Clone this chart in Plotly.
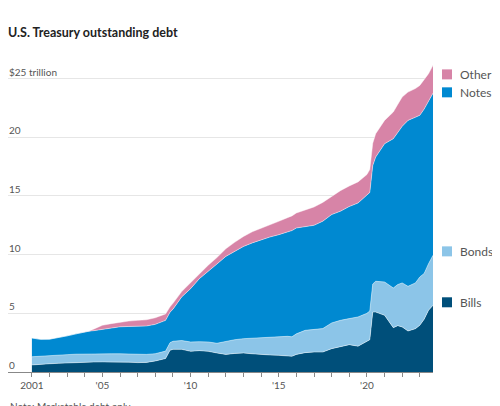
import plotly.graph_objects as go

# Fechas (aprox. semestrales, con puntos extra en los saltos de 2008 y 2020)
dates = [
    "2001-01-01", "2001-07-01", "2002-01-01", "2002-07-01", "2003-01-01", "2003-07-01",
    "2004-01-01", "2004-04-01", "2004-07-01", "2005-01-01", "2005-07-01", "2006-01-01",
    "2006-07-01", "2007-01-01", "2007-07-01", "2008-01-01", "2008-08-01", "2008-11-01",
    "2009-01-01", "2009-07-01", "2010-01-01", "2010-07-01", "2011-01-01", "2011-07-01",
    "2012-01-01", "2012-07-01", "2013-01-01", "2013-07-01", "2014-01-01", "2014-07-01",
    "2015-01-01", "2015-07-01", "2015-10-01", "2016-01-01", "2016-07-01", "2017-01-01",
    "2017-07-01", "2018-01-01", "2018-07-01", "2019-01-01", "2019-07-01", "2020-01-01",
    "2020-03-01", "2020-05-01", "2020-07-01", "2021-01-01", "2021-04-01", "2021-07-01",
    "2021-10-01", "2022-01-01", "2022-05-01", "2022-10-01", "2023-01-01", "2023-04-01",
    "2023-07-01", "2023-10-01",
]

# Billones de dólares (trillions)
bills = [
    0.60, 0.62, 0.70, 0.74, 0.78, 0.82, 0.84, 0.85, 0.85, 0.86, 0.87, 0.86,
    0.84, 0.80, 0.82, 0.94, 1.15, 1.85, 1.93, 1.93, 1.76, 1.82, 1.76, 1.62,
    1.50, 1.58, 1.62, 1.55, 1.48, 1.45, 1.42, 1.38, 1.34, 1.50, 1.65, 1.70,
    1.70, 1.99, 2.19, 2.33, 2.20, 2.60, 2.75, 5.11, 5.11, 4.83, 4.26, 3.78,
    3.95, 3.84, 3.49, 3.69, 3.98, 4.50, 5.26, 5.68,
]
bonds = [
    0.70, 0.71, 0.70, 0.69, 0.70, 0.70, 0.70, 0.70, 0.70, 0.69, 0.68, 0.69,
    0.68, 0.70, 0.68, 0.62, 0.63, 0.65, 0.69, 0.75, 0.80, 0.76, 0.80, 0.83,
    1.12, 1.17, 1.22, 1.33, 1.45, 1.53, 1.62, 1.66, 1.66, 1.75, 1.90, 1.94,
    2.00, 2.19, 2.21, 2.22, 2.49, 2.40, 2.45, 2.39, 2.62, 2.84, 3.13, 3.38,
    3.50, 3.75, 3.81, 3.90, 4.12, 3.90, 3.97, 4.26,
]
notes = [
    1.60, 1.45, 1.40, 1.49, 1.60, 1.73, 1.88, 1.93, 1.97, 2.10, 2.20, 2.30,
    2.36, 2.40, 2.42, 2.50, 2.62, 2.60, 2.73, 3.72, 4.54, 5.37, 5.99, 6.75,
    7.23, 7.55, 7.86, 8.12, 8.35, 8.52, 8.66, 8.91, 9.05, 9.02, 8.85, 8.86,
    9.15, 9.23, 9.30, 9.55, 9.71, 10.11, 10.10, 10.10, 10.58, 11.78, 12.31, 12.72,
    12.95, 13.34, 14.14, 14.11, 13.77, 14.00, 13.91, 13.82,
]
other = [
    0.00, 0.00, 0.00, 0.00, 0.00, 0.00, 0.00, 0.01, 0.13, 0.33, 0.37, 0.41,
    0.46, 0.50, 0.53, 0.56, 0.55, 0.45, 0.50, 0.45, 0.50, 0.45, 0.55, 0.55,
    0.65, 0.75, 0.85, 0.95, 0.99, 1.05, 1.14, 1.20, 1.25, 1.28, 1.40, 1.56,
    1.60, 1.56, 1.75, 1.75, 1.80, 1.71, 1.95, 1.90, 1.99, 1.99, 2.10, 2.27,
    2.40, 2.50, 2.41, 2.45, 2.55, 2.55, 2.28, 2.37,
]

# Etiquetas de ejes
year_ticks = ["%d-01-01" % y for y in range(2001, 2024)]
year_text = ["2001" if y == 2001 else ("'%02d" % (y % 100) if y % 5 == 0 else "") for y in range(2001, 2024)]
y_ticks = [0, 5, 10, 15, 20, 25]
y_text = ["0", "5", "10", "15", "20", "$25 trillion"]

colors = {"Bills": "#004f7a", "Bonds": "#8cc5e8", "Notes": "#0089d1", "Other": "#d784a7"}
series = [("Bills", bills), ("Bonds", bonds), ("Notes", notes), ("Other", other)]

fig = go.Figure()
for name, vals in series:
    fig.add_trace(go.Scatter(
        x=dates, y=vals, name=name, stackgroup="debt", mode="lines",
        line=dict(color="rgba(255,255,255,0.55)", width=0.8),
        fillcolor=colors[name], hoverinfo="x+y+name",
    ))

FONT = "Lato, Roboto, sans-serif"

# la página tiene 8px de margen en el body: la figura se reduce para caber
fig.update_layout(
    width=492, height=398,
    margin=dict(l=0, r=67, t=53, b=34),
    paper_bgcolor="white", plot_bgcolor="white",
    showlegend=False,
    font=dict(family=FONT, size=10, color="#555"),
    title=dict(text="<b>U.S. Treasury outstanding debt</b>", x=0.0, xref="container",
               y=0.937, yanchor="middle", font=dict(family=FONT, size=12.5, color="#222")),
)
fig.update_xaxes(
    type="date", range=["1999-08-25", "2023-10-01"],
    tickvals=year_ticks, ticktext=year_text,
    ticks="outside", ticklen=4, tickcolor="#888",
    showline=True, linecolor="#888", linewidth=1,
    showgrid=False, zeroline=False,
    tickfont=dict(size=10, color="#555"),
)
fig.update_yaxes(
    range=[0, 26.5], tickvals=y_ticks, showticklabels=False, showgrid=True,
    gridcolor="rgba(200,200,200,0.45)", gridwidth=1,
    zeroline=False, showline=False, layer="above traces",
)

# Etiquetas del eje y, encima de cada línea de cuadrícula
for v, t in zip(y_ticks, y_text):
    fig.add_annotation(x=0.0, y=v, xref="paper", yref="y", text=t, showarrow=False,
                       xanchor="left", yanchor="bottom", borderpad=0,
                       font=dict(size=10, color="#555"))

# Leyenda al final de cada serie
legend_y = {"Other": 25.36, "Notes": 23.83, "Bonds": 10.28, "Bills": 5.94}
for name, _ in series:
    fig.add_shape(type="rect", xref="paper", yref="y", xsizemode="pixel", ysizemode="pixel",
                  xanchor=1.033, x0=-5, x1=5, yanchor=legend_y[name], y0=-5, y1=5,
                  fillcolor=colors[name], line=dict(width=0))
    fig.add_annotation(x=1.058, y=legend_y[name], xref="paper", yref="y", text=name,
                       showarrow=False, xanchor="left", yanchor="middle",
                       font=dict(size=12, color="#555"))

fig.add_annotation(x=0.0, y=-0.11, xref="paper", yref="paper", text="Note: Marketable debt only",
                   showarrow=False, xanchor="left", yanchor="middle",
                   font=dict(size=10, color="#555"))

fig.write_html("out.html")
